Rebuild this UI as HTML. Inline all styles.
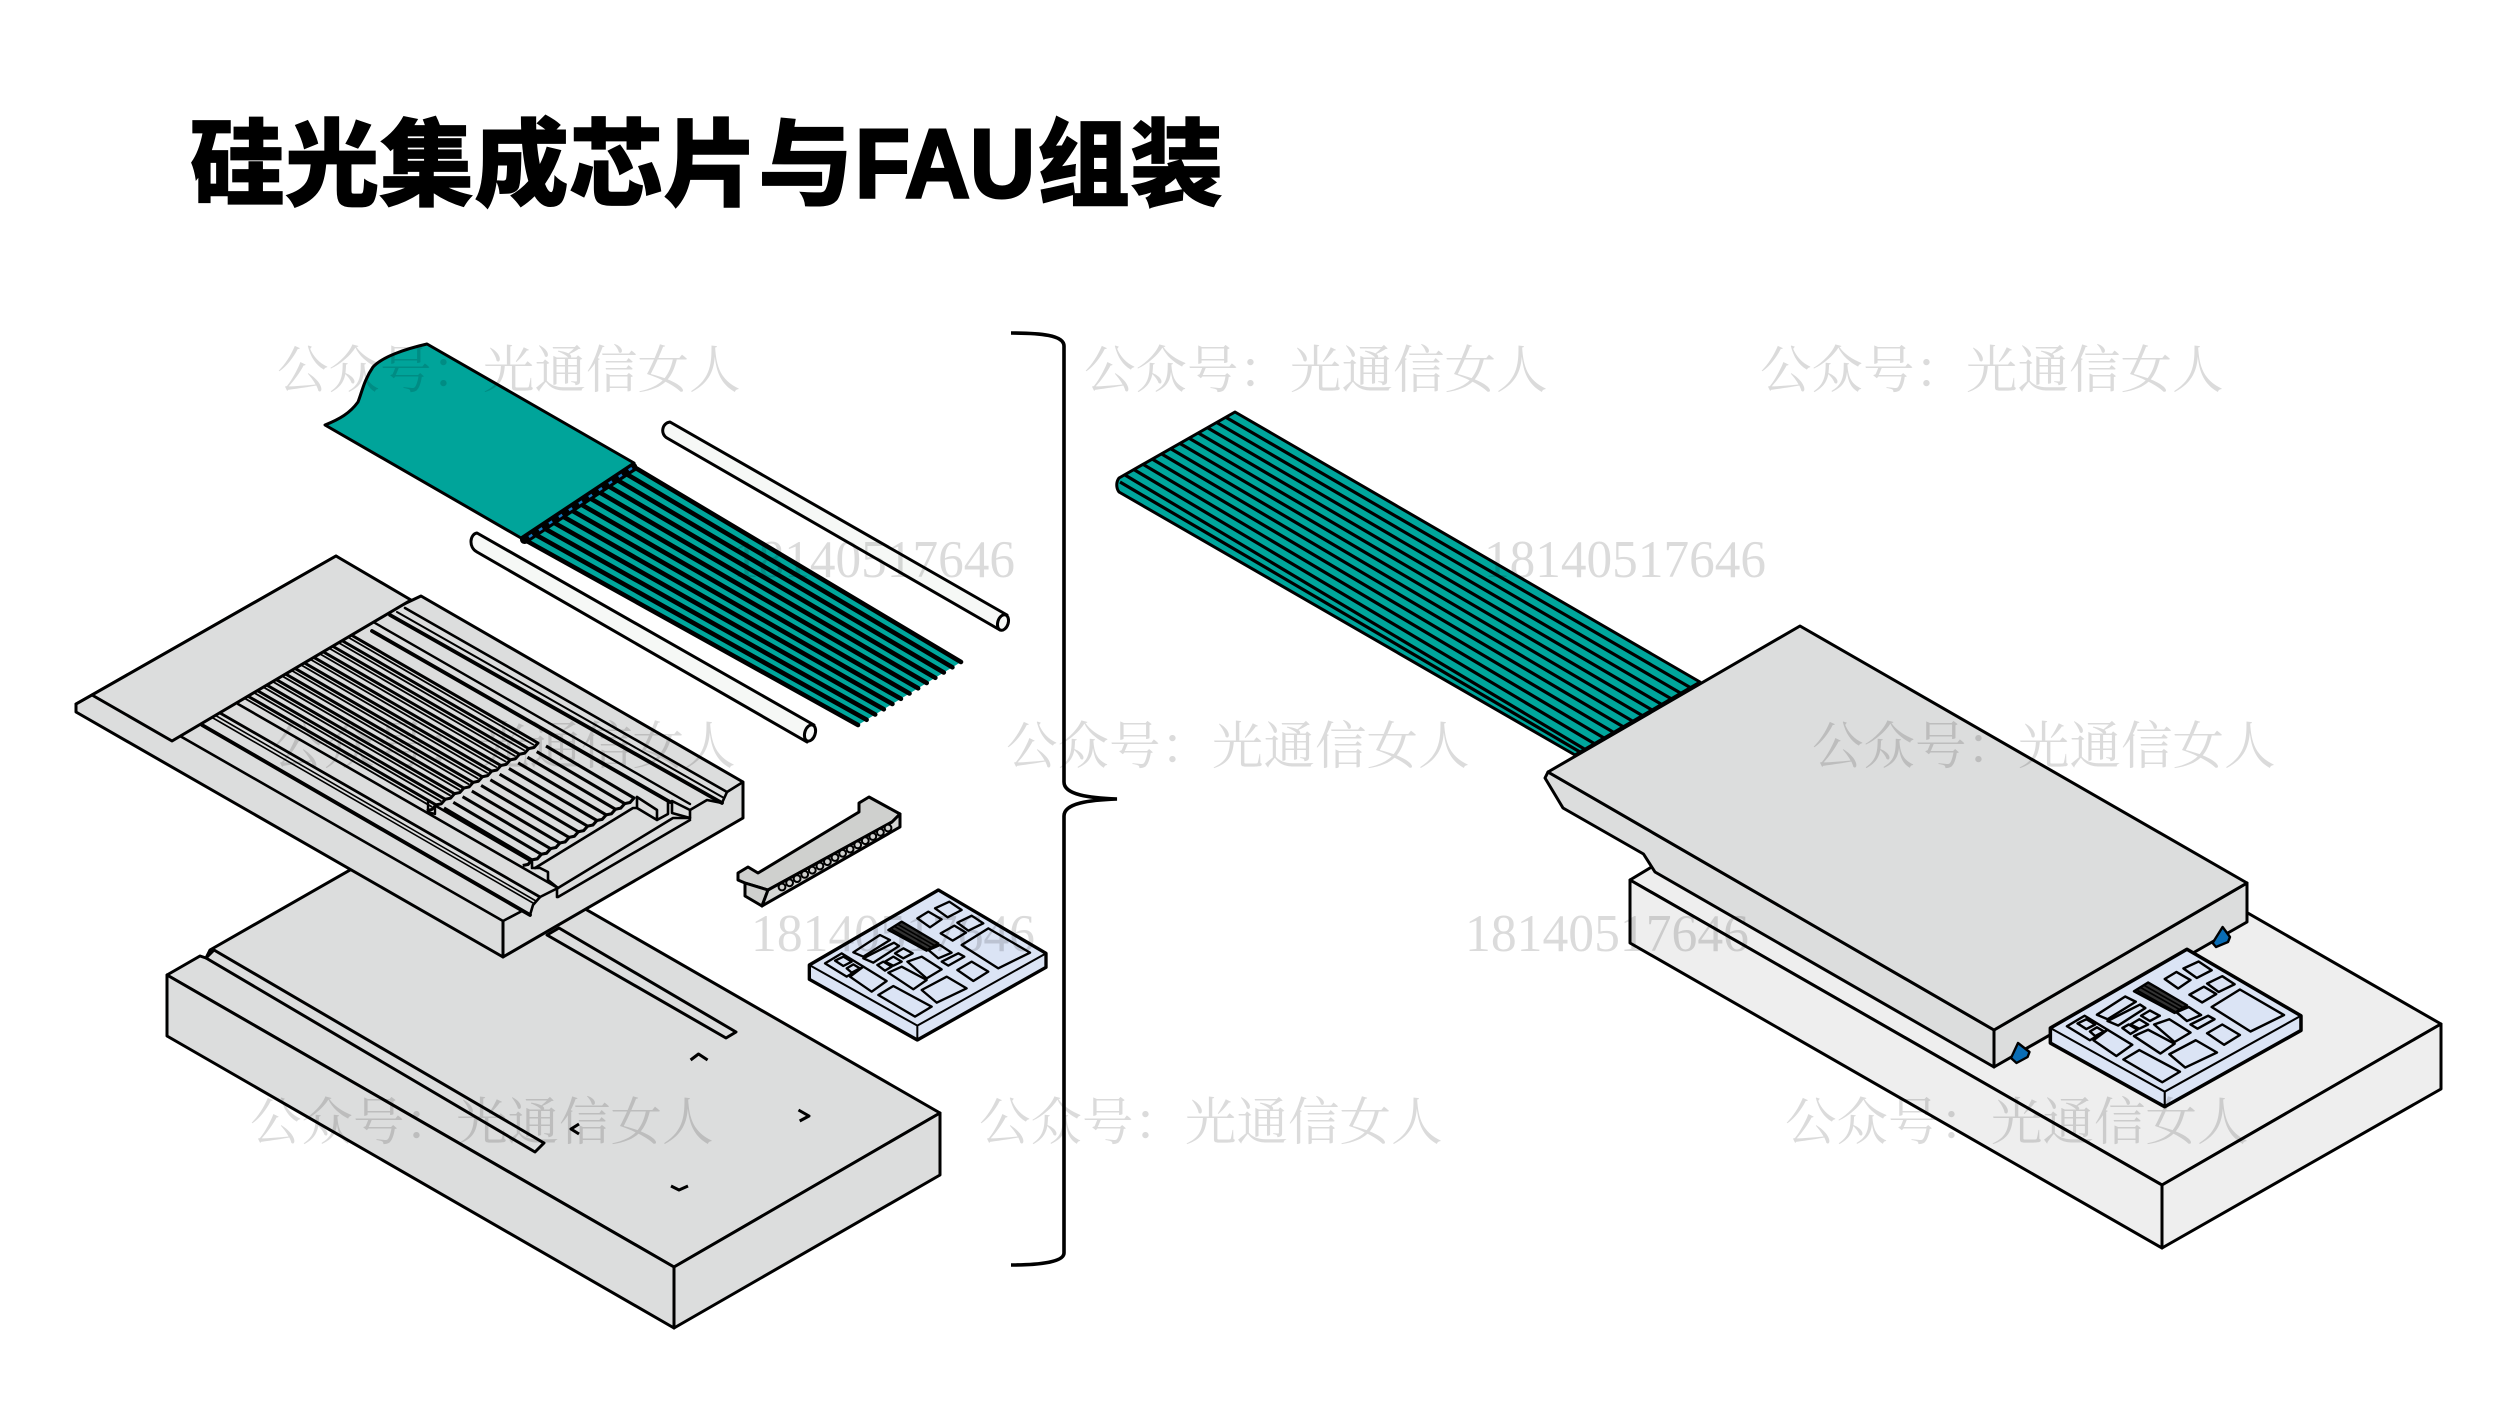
<!DOCTYPE html>
<html lang="zh">
<head>
<meta charset="utf-8">
<title>硅光集成芯片与FAU组装</title>
<style>
html,body{margin:0;padding:0;background:#fff;width:2500px;height:1406px;overflow:hidden}
svg{display:block}
.o{stroke:#000;stroke-width:3;stroke-linejoin:round;stroke-linecap:round}
.wz{font-family:"Liberation Serif","Noto Serif CJK SC",serif;font-size:51.5px;fill:#000;fill-opacity:.14}
.wn{font-family:"Liberation Serif",serif;font-size:53px;fill:#000;fill-opacity:.14}
.tz{font-family:"Liberation Sans","Noto Sans CJK SC",sans-serif;font-weight:900;font-size:95px;fill:#000;stroke:#000;stroke-width:.8}
.tl{font-family:"Liberation Sans",sans-serif;font-weight:700;font-size:97px;fill:#000;stroke:#000;stroke-width:3}
</style>
</head>
<body>
<svg width="2500" height="1406" viewBox="0 0 2500 1406" xmlns="http://www.w3.org/2000/svg">
<defs>
  <g id="groove" fill="none" stroke="#000" stroke-linejoin="round">
    <path stroke-width="3" d="M340,628.5 L538,743 L534,747.5 L528.7,748.6"/>
    <path stroke-width="1.8" d="M336.5,630.5 L534,745"/>
    <path stroke-width="3.1" d="M546,746 L634,798 L630,802.5 L624.7,803.6"/>
  </g>
  <g id="chip">
    <g transform="translate(720,780) scale(.33333)">
      <path d="M655,330 L268,555 L268,598 L592,780 L978,562 L978,520 Z" fill="#dbe4f5" stroke="#000" stroke-width="10" stroke-linejoin="round"/>
      <path d="M268,555 L592,737 L978,520 M592,737 L592,780" fill="none" stroke="#000" stroke-width="6"/>
      <g fill="#dbe4f5" stroke="#000" stroke-width="7" stroke-linejoin="round">
        <path d="M725,495 L805,445 L930,518 L835,565 Z"/>
        <path d="M645,385 L688,365 L725,390 L683,412 Z"/>
        <path d="M592,415 L625,395 L665,418 L630,442 Z"/>
        <path d="M712,428 L755,407 L790,430 L745,452 Z"/>
        <path d="M662,460 L703,437 L738,458 L698,482 Z"/>
        <path d="M625,510 L660,495 L695,518 L655,535 Z"/>
        <path d="M665,545 L715,520 L733,530 L685,557 Z"/>
        <path d="M712,570 L755,545 L805,575 L760,603 Z"/>
        <path d="M400,517 L480,465 L510,480 L430,530 Z"/>
        <path d="M430,535 L522,488 L537,498 L460,548 Z"/>
        <path d="M525,520 L550,505 L578,520 L550,535 Z"/>
        <path d="M495,545 L520,530 L545,545 L520,557 Z"/>
        <path d="M472,555 L490,545 L515,560 L495,572 Z"/>
        <path d="M562,545 L605,530 L665,568 L620,595 Z"/>
        <path d="M505,578 L545,560 L620,600 L580,628 Z"/>
        <path d="M605,630 L680,590 L740,625 L650,668 Z"/>
        <path d="M475,645 L520,618 L635,680 L585,710 Z"/>
        <path d="M390,590 L430,560 L500,603 L455,635 Z"/>
        <path d="M315,550 L365,520 L430,560 L380,590 Z"/>
        <path d="M345,542 L370,530 L395,545 L370,558 Z"/>
        <path d="M380,565 L400,553 L420,565 L395,578 Z"/>
        <path d="M505,450 L545,425 L655,490 L620,512 Z" fill="#333"/>
      </g>
      <path d="M515,448 L625,510 M525,440 L635,503 M535,434 L645,497" stroke="#000" stroke-width="5" fill="none"/>
    </g>
  </g>
</defs>

<!-- LEFT: base plate -->
<g class="o" fill="#dcdddd">
  <path d="M210,950 L434,822 L940,1113 L674,1267 L167,975 L200,956 L206,958 Z"/>
  <path d="M167,975 L167,1036 L674,1328 L674,1267 Z"/>
  <path d="M674,1267 L674,1328 L940,1175 L940,1113 Z"/>
  <path d="M206,958 L214,950 L544,1143 L535,1152 Z"/>
  <path d="M547,935 L559,928 L736,1032 L726,1038 Z"/>
</g>
<g fill="none" stroke="#000" stroke-width="3" stroke-linejoin="round">
  <path d="M690.6,1060 L698.5,1054 L707.6,1060"/>
  <path d="M798.5,1110 L809,1116 L799.7,1121"/>
  <path d="M579,1124 L571,1129 L579,1134"/>
  <path d="M671,1186 L679,1190 L688,1186"/>
</g>

<!-- LEFT: lid / V-groove block -->
<path class="o" fill="#dcdddd" d="M336,556 L76,704 L76,712 L503,957 L743,818 L743,782 L421,596 L404,604 Z"/>
<g>
  <use href="#groove"/>
  <use href="#groove" transform="translate(-9.27,5.63)"/>
  <use href="#groove" transform="translate(-18.54,11.26)"/>
  <use href="#groove" transform="translate(-27.81,16.89)"/>
  <use href="#groove" transform="translate(-37.08,22.52)"/>
  <use href="#groove" transform="translate(-46.35,28.15)"/>
  <use href="#groove" transform="translate(-55.62,33.78)"/>
  <use href="#groove" transform="translate(-64.89,39.41)"/>
  <use href="#groove" transform="translate(-74.16,45.04)"/>
  <use href="#groove" transform="translate(-83.43,50.67)"/>
  <use href="#groove" transform="translate(-92.7,56.3)"/>
  <use href="#groove" transform="translate(-101.97,61.93)"/>
</g>
<g fill="none" stroke="#000" stroke-linejoin="round" stroke-linecap="round">
  <!-- left rail -->
  <path stroke-width="2.6" d="M180,736 L503,921"/>
  <path stroke-width="3.8" d="M202,725 L530,915"/>
  <path stroke-width="1.6" d="M213,718 L533,903 M216.5,716 L536,901"/>
  <path stroke-width="2.8" d="M220,713 L540,897"/>
  <path stroke-width="2.6" d="M238,704 L558,888"/>
  <!-- groove lower boundary and step -->
  <path stroke-width="2.6" d="M436,806 L532,862 L532,868 L540,868 L548,872 L548,880 L558,888"/>
  <path stroke-width="2.4" d="M428,802 L428,812 L435,814 L435,806"/>
  <!-- platform -->
  <path stroke-width="2.6" d="M535,868 L633,808 L637,808 L637,797"/>
  <path stroke-width="2.6" d="M558,888 L673,818 L690,818"/>
  <path stroke-width="2.6" d="M558,897 L690,820"/>
  <path stroke-width="2.6" d="M557,888 L557,897"/>
  <!-- front notch -->
  <path stroke-width="2.6" d="M503,921 L522,911 L530,915 L533,905 L540,897 L558,888"/>
  <!-- right rails -->
  <path stroke-width="3.8" d="M372,631 L670,802"/>
  <path stroke-width="2.4" d="M375,623 L690,804"/>
  <path stroke-width="3.8" d="M390,615 L722,803"/>
  <path stroke-width="2" d="M397,612 L724,798"/>
  <path stroke-width="2.6" d="M405,608 L727,792"/>
  <path stroke-width="2.6" d="M690,810 L707,800 L722,803 L727,792 L743,782"/>
  <path stroke-width="2.6" d="M637,797 L657,810 L657,820 L637,808 M657,820 L668,814 L668,802"/>
  <path stroke-width="2.6" d="M672,801 L672,813 L690,818 L690,810 L672,801"/>
  <path stroke-width="3" d="M503,921 L503,957"/>
</g>
<path class="o" fill="#dcdddd" d="M336,556 L92,695 L172,741 L411,600 Z"/>
<path class="o" fill="none" d="M92,695 L76,704"/>

<!-- LEFT: rods -->
<g class="o" fill="#f6f8f6">
  <path d="M670,422 L1007,615 L1000,630 L667,438 C660,434 662,423 670,422 Z"/>
  <ellipse cx="1003" cy="622.5" rx="5.2" ry="8" transform="rotate(18 1003 622.5)"/>
  <path d="M477,533 L814,725 L807,742 L477,552 C468,547 470,534 477,533 Z"/>
  <ellipse cx="810" cy="733" rx="5.2" ry="8.4" transform="rotate(18 810 733)"/>
</g>

<!-- LEFT: ribbon -->
<path d="M525,540 L634,467 L961,662 L858,725 Z" fill="#00a69c"/>
<path fill="none" stroke="#000" stroke-width="4.6" stroke-linecap="round" d="M634,467 L961,662 M624.9,473.1 L952.4,667.3 M615.8,479.2 L943.8,672.5 M606.8,485.2 L935.3,677.8 M597.7,491.3 L926.7,683 M588.6,497.4 L918.1,688.3 M579.5,503.5 L909.5,693.5 M570.4,509.6 L900.9,698.8 M561.4,515.6 L892.4,704 M552.3,521.7 L883.8,709.3 M543.2,527.8 L875.2,714.5 M534.1,533.9 L866.6,719.8 M525,540 L858,725"/>
<path class="o" fill="#00a49a" d="M427,344 C405,349 382,357 373,367 C364,380 362,392 358,402 C350,413 340,419 325,425 L521,538 L634,463 Z"/>
<path d="M634,463 C638,466 637,470 634,471 L526,543 C522,544 520,541 521,538 Z" fill="#000" stroke="#000" stroke-width="1.5"/>
<path d="M632,468 L526,539" stroke="#0f79c4" stroke-width="2.4" stroke-dasharray="4 8" fill="none"/>

<!-- LEFT: connector -->
<g class="o" fill="#cfd0ce">
  <path d="M738,873 L748,867 L758,873 L859,812 L859,803 L869,797 L900,814 L892,822 L768,890 L745,883 L738,880 Z"/>
  <path d="M745,883 L745,896 L762,906 L768,890 Z"/>
  <path d="M768,890 L892,822 L900,814 L900,827 L762,906 Z" fill="#d4d5d3"/>
</g>
<g fill="#cfd0ce" stroke="#000" stroke-width="2">
  <circle cx="782" cy="887" r="3.4"/><circle cx="789.6" cy="882.8" r="3.4"/><circle cx="797.1" cy="878.6" r="3.4"/><circle cx="804.7" cy="874.4" r="3.4"/><circle cx="812.3" cy="870.2" r="3.4"/>
  <circle cx="819.9" cy="866" r="3.4"/><circle cx="827.4" cy="861.7" r="3.4"/><circle cx="835" cy="857.5" r="3.4"/><circle cx="842.6" cy="853.3" r="3.4"/><circle cx="850.1" cy="849.1" r="3.4"/>
  <circle cx="857.7" cy="844.9" r="3.4"/><circle cx="865.3" cy="840.7" r="3.4"/><circle cx="872.8" cy="836.5" r="3.4"/><circle cx="880.4" cy="832.3" r="3.4"/><circle cx="888" cy="828" r="3.4"/>
</g>

<!-- LEFT: chip -->
<use href="#chip"/>

<!-- bracket -->
<path fill="none" stroke="#000" stroke-width="3.6" d="M1011,333 C1040,333 1064,335 1064,346 L1064,782 C1064,795 1090,798 1117,799 C1090,800 1064,803 1064,816 L1064,1253 C1064,1262 1040,1265 1011,1265"/>

<!-- RIGHT: base -->
<g class="o" fill="#eeeeee">
  <path d="M1630,880 L1903,715 L2441,1024 L2162,1185 Z"/>
  <path d="M1630,880 L1630,943 L2162,1248 L2162,1185 Z"/>
  <path d="M2162,1185 L2162,1248 L2441,1089 L2441,1024 Z"/>
</g>

<!-- RIGHT: ribbon -->
<path d="M1235,412 L1700,682 L1575,755 L1119,492 C1116,488 1116,482 1119,478 Z" fill="#00a69c" stroke="#000" stroke-width="3" stroke-linejoin="round"/>
<path fill="none" stroke="#000" stroke-width="3.2" d="M1225.8,417.3 L1690.4,687.6 M1216.7,422.5 L1680.8,693.2 M1207.5,427.8 L1671.2,698.8 M1198.3,433 L1661.6,704.4 M1189.2,438.3 L1652,710 M1180,443.5 L1642.4,715.6 M1170.8,448.8 L1632.8,721.2 M1161.7,454 L1623.2,726.8 M1152.5,459.3 L1613.6,732.4 M1143.3,464.5 L1604,738 M1134.2,469.8 L1594.4,743.6 M1125,475 L1584.8,749.2 M1120,482 L1580,752"/>

<!-- RIGHT: lid -->
<g class="o" fill="#dcdddd">
  <path d="M1548,772 L1545,778 L1563,808 L1643.5,854 L1655,872 L1994,1067 L1994,1030 Z"/>
  <path d="M1994,1030 L1994,1067 L2247,922 L2247,883 Z"/>
  <path d="M1548,772 L1800,626 L2247,883 L1994,1030 Z"/>
</g>
<g stroke="#000" stroke-width="2.4" stroke-linejoin="round" fill="#0a6db5">
  <path d="M2018,1043 L2029.5,1052 L2027.6,1057 L2016.5,1063 L2011,1058 Z"/>
  <path d="M2222.6,927 L2230,937 L2228,942 L2216,947 L2212.6,943 Z"/>
</g>

<!-- RIGHT: chip -->
<g transform="translate(2050,1028) scale(1.059,1.05) translate(-809,-965)"><use href="#chip"/></g>

<!-- title -->
<text class="tz" x="190" y="198" textLength="663" lengthAdjust="spacingAndGlyphs">硅光集成芯片与</text>
<text class="tl" x="855" y="197" textLength="180" lengthAdjust="spacingAndGlyphs">FAU</text>
<text class="tz" x="1037" y="198" textLength="186" lengthAdjust="spacingAndGlyphs">组装</text>

<!-- watermarks -->
<g class="wz">
  <text x="277" y="388">公众号&#xFF1A;光通信女人</text>
  <text x="1084" y="388">公众号&#xFF1A;光通信女人</text>
  <text x="1760" y="388">公众号&#xFF1A;光通信女人</text>
  <text x="272" y="764">公众号&#xFF1A;光通信女人</text>
  <text x="1006" y="764">公众号&#xFF1A;光通信女人</text>
  <text x="1812" y="764">公众号&#xFF1A;光通信女人</text>
  <text x="250" y="1140">公众号&#xFF1A;光通信女人</text>
  <text x="979" y="1140">公众号&#xFF1A;光通信女人</text>
  <text x="1785" y="1140">公众号&#xFF1A;光通信女人</text>
</g>
<g class="wn">
  <text x="733" y="577" textLength="282" lengthAdjust="spacingAndGlyphs">18140517646</text>
  <text x="1484" y="577" textLength="282" lengthAdjust="spacingAndGlyphs">18140517646</text>
  <text x="751" y="951" textLength="284" lengthAdjust="spacingAndGlyphs">18140517646</text>
  <text x="1465" y="951" textLength="284" lengthAdjust="spacingAndGlyphs">18140517646</text>
</g>
</svg>
</body>
</html>
